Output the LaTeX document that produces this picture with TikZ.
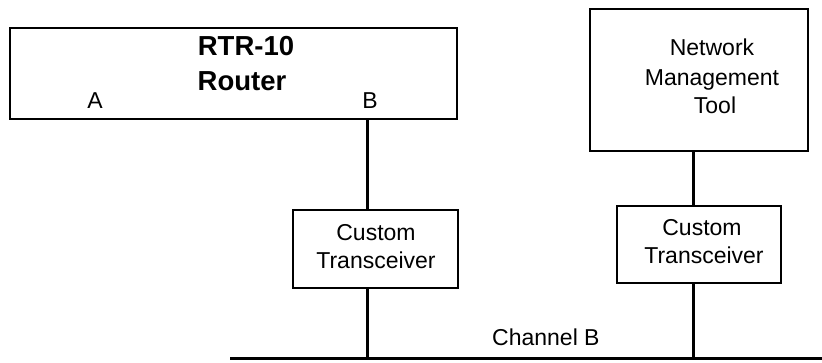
\documentclass[tikz,border=0pt]{standalone}
\usepackage{fontspec}
\setmainfont{Liberation Sans}
\begin{document}
\begin{tikzpicture}[x=1pt,y=-1pt,
  box/.style={draw,line width=2pt,inner sep=0pt,rectangle},
  wire/.style={line width=3pt},
  lbl/.style={font=\fontsize{23}{29}\selectfont,inner sep=0pt,anchor=base},
  ttl/.style={font=\fontsize{27.5}{33}\selectfont\bfseries,inner sep=0pt,anchor=base}]
\useasboundingbox (0,0) rectangle (822,362);
% boxes
\node[box,minimum width=447pt,minimum height=91pt] (rtr) at (233.5,73.5) {};
\node[box,minimum width=218pt,minimum height=142pt] (nmt) at (699,80) {};
\node[box,minimum width=165pt,minimum height=78pt] (ct1) at (375.5,249) {};
\node[box,minimum width=164pt,minimum height=77pt] (ct2) at (699,244.5) {};
% texts
\node[ttl] (t1) at (246,55) {RTR-10};
\node[ttl] (t2) at (242,90) {Router};
\node[lbl] (lA) at (95,108) {A};
\node[lbl] (lB) at (370,108) {B};
\node[lbl] (n1) at (712,55) {Network};
\node[lbl] (n2) at (712,85) {Management};
\node[lbl] (n3) at (715,113) {Tool};
\node[lbl] (c1a) at (376,240) {Custom};
\node[lbl] (c1b) at (376,268) {Transceiver};
\node[lbl] (c2a) at (702,235) {Custom};
\node[lbl] (c2b) at (704,263) {Transceiver};
\node[lbl,anchor=base west] (ch) at (492,345) {Channel B};
% connectors
\coordinate (xB) at (367,0);
\coordinate (xN) at (693,0);
\coordinate (busL) at (230,358);
\coordinate (busR) at (822,358);
\draw[wire] (busL) -- (busR);
\draw[wire] (xB |- rtr.south) -- (xB |- ct1.north);
\draw[wire] (xB |- ct1.south) -- (xB |- busL);
\draw[wire] (xN |- nmt.south) -- (xN |- ct2.north);
\draw[wire] (xN |- ct2.south) -- (xN |- busL);
\end{tikzpicture}
\end{document}
